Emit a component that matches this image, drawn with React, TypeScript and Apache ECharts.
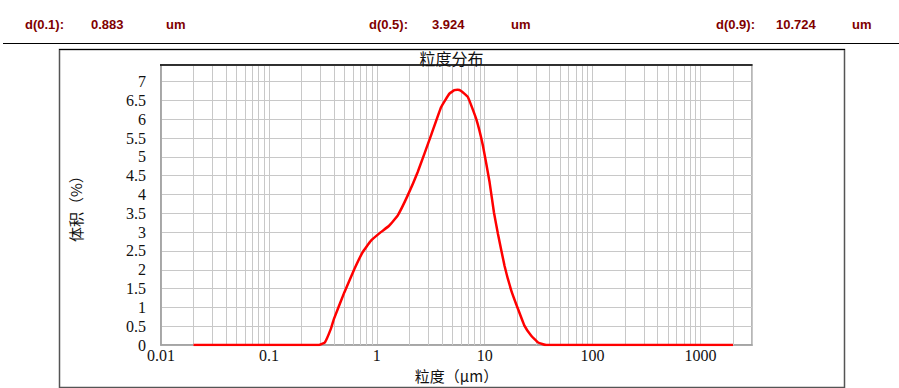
import React, { useEffect, useRef } from "react";
import * as echarts from "echarts";

// ---- data ----
const sizes = [0.02, 0.05, 0.1, 0.2, 0.29, 0.33, 0.375, 0.40, 0.50, 0.62, 0.74, 0.88, 1.09, 1.30, 1.56, 1.93, 2.39, 3.18, 3.94, 4.71, 5.24, 5.6, 6.05, 6.98, 8.34, 9.62, 11.09, 12.17, 13.27, 15.28, 17.63, 20.35, 23.4, 27.0, 31.2, 37.3, 50, 100, 200, 500, 1000, 2000];
const volume = [0, 0, 0, 0, 0, 0.07, 0.43, 0.69, 1.40, 2.02, 2.47, 2.77, 3.0, 3.17, 3.44, 3.97, 4.59, 5.57, 6.32, 6.68, 6.77, 6.78, 6.75, 6.59, 6.01, 5.30, 4.33, 3.53, 2.95, 2.1, 1.45, 0.96, 0.51, 0.25, 0.07, 0, 0, 0, 0, 0, 0, 0];
const dLabels = ["d(0.1):", "d(0.5):", "d(0.9):"];
const dValues = ["0.883", "3.924", "10.724"];
const dUnit = "um";
const titleText = "粒度分布";
const xName = "粒度（μm）";
const yName = "体积（%）";
const yMax = 7.44;
const xMin = 0.01;
const xMax = 3000;
const minorMultipliers = [2, 3, 4, 5, 6, 7, 8, 9];
const decades = [0.01, 0.1, 1, 10, 100, 1000];

// ---- layout ----
const labelX = [25, 369, 716];
const valueX = [91, 432, 776];
const unitX = [166, 511, 852];

export default function App() {
  const ref = useRef<HTMLDivElement>(null);
  useEffect(() => {
    if (!ref.current) return;
    const chart = echarts.init(ref.current, null, { renderer: "svg" });
    const minorLines: { xAxis: number }[] = [];
    decades.forEach((d) => {
      minorMultipliers.forEach((m) => {
        const v = +(d * m).toPrecision(6);
        if (v > xMin && v < xMax) minorLines.push({ xAxis: v });
      });
    });
    const headerFont = { fontFamily: "Liberation Sans", fontWeight: "bold" as const, fontSize: 13, fill: "#800000" };
    const header: any[] = [];
    dLabels.forEach((l, i) => {
      header.push({ type: "text", x: labelX[i], y: 24, style: { ...headerFont, text: l, textVerticalAlign: "middle" } });
      header.push({ type: "text", x: valueX[i], y: 24, style: { ...headerFont, text: dValues[i], textVerticalAlign: "middle" } });
      header.push({ type: "text", x: unitX[i], y: 24, style: { ...headerFont, text: dUnit, textVerticalAlign: "middle" } });
    });
    const serif = "Liberation Serif";
    const cjk = "Noto Sans CJK SC";
    chart.setOption({
      animation: false,
      backgroundColor: "#ffffff",
      grid: { left: 161, right: 147, top: 65, bottom: 42, show: true, borderColor: "#a0a0a0", borderWidth: 1.5 },
      xAxis: {
        type: "log",
        logBase: 10,
        min: xMin,
        max: xMax,
        name: xName,
        nameLocation: "middle",
        nameGap: 22,
        nameTextStyle: { fontFamily: cjk, fontSize: 15, color: "#111" },
        axisLine: { show: true, lineStyle: { color: "#a0a0a0", width: 1.5 } },
        axisTick: { show: false },
        axisLabel: {
          margin: 2,
          fontFamily: serif,
          fontSize: 16,
          color: "#111",
          showMaxLabel: false,
          formatter: (v: number) => String(+Number(v).toPrecision(6)),
        },
        splitLine: { show: true, lineStyle: { color: "#c8c8c8", width: 1 } },
      },
      yAxis: {
        type: "value",
        min: 0,
        max: yMax,
        interval: 0.5,
        name: yName,
        nameLocation: "middle",
        nameGap: 78,
        nameTextStyle: { fontFamily: cjk, fontSize: 15, color: "#111" },
        axisLine: { show: true, lineStyle: { color: "#a0a0a0", width: 1.5 } },
        axisTick: { show: false },
        axisLabel: { margin: 15, fontFamily: serif, fontSize: 16, color: "#111", showMaxLabel: false },
        splitLine: { show: true, lineStyle: { color: "#c8c8c8", width: 1 } },
      },
      series: [
        {
          type: "line",
          data: [],
          z: 1,
          silent: true,
          markLine: {
            silent: true,
            symbol: "none",
            label: { show: false },
            lineStyle: { color: "#c8c8c8", width: 1, type: "solid" },
            emphasis: { disabled: true },
            data: minorLines,
          },
        },
        {
          type: "line",
          z: 5,
          data: sizes.map((s, i) => [s, volume[i]]),
          showSymbol: false,
          smooth: 0.1,
          lineStyle: { color: "#ff0000", width: 2.5 },
          itemStyle: { color: "#ff0000" },
        },
      ],
      graphic: [
        ...header,
        { type: "line", z: 100, shape: { x1: 3, y1: 43.5, x2: 899, y2: 43.5 }, style: { stroke: "#000", lineWidth: 1 } },
        { type: "rect", z: 100, shape: { x: 59.5, y: 49.5, width: 785, height: 338 }, style: { fill: "none", stroke: "#555", lineWidth: 1.5 } },
        { type: "line", z: 101, shape: { x1: 59, y1: 49.5, x2: 845, y2: 49.5 }, style: { stroke: "#000", lineWidth: 1 } },
        { type: "line", z: 101, shape: { x1: 160, y1: 65, x2: 752.5, y2: 65 }, style: { stroke: "#000", lineWidth: 1.5 } },
        {
          type: "text",
          z: 101,
          x: 451.5,
          y: 66,
          style: { text: titleText, fontFamily: cjk, fontSize: 16, fill: "#111", textAlign: "center", textVerticalAlign: "bottom" },
        },
      ],
    });
    return () => chart.dispose();
  }, []);
  return <div ref={ref} style={{ position: "fixed", left: 0, top: 0, width: 899, height: 388, background: "#fff" }} />;
}
